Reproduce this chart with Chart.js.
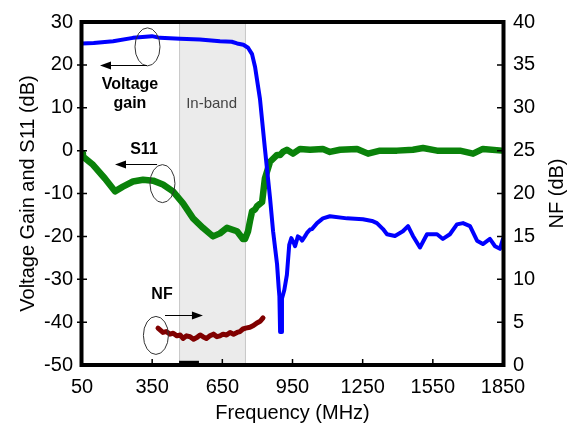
<!DOCTYPE html>
<html>
<head>
<meta charset="utf-8">
<script src="https://cdn.jsdelivr.net/npm/chart.js@4.4.1/dist/chart.umd.min.js"></script>
<style>
  html, body { margin: 0; padding: 0; background: #fff; }
</style>
</head>
<body>
<canvas id="chart" width="572" height="425"></canvas>
<script>
// Voltage gain, S11 and NF versus frequency, with the in-band region shaded.
const gainFreq = [50, 100, 183, 268, 349, 383, 469, 554, 640, 690, 713, 740, 760, 777, 790, 811, 832, 854, 867, 884, 891, 894, 897, 901, 905, 915, 926, 936, 945, 955, 961, 973, 982, 991, 1003, 1012, 1025, 1033, 1055, 1080, 1110, 1183, 1251, 1290, 1311, 1337, 1354, 1388, 1422, 1444, 1465, 1495, 1525, 1568, 1593, 1623, 1653, 1679, 1709, 1739, 1764, 1794, 1816, 1837, 1850];
const gainDb = [25.0, 25.1, 25.5, 26.3, 26.7, 26.3, 26.1, 25.9, 25.5, 25.4, 25.0, 24.7, 24.0, 22.5, 19.5, 12.0, 0.5, -11.1, -18.8, -26.5, -32.0, -34.0, -42.3, -42.3, -34.5, -32.5, -29.0, -22.0, -20.4, -21.5, -22.3, -20.0, -20.3, -21.0, -20.0, -19.2, -18.4, -18.3, -16.9, -15.8, -15.3, -15.8, -16.0, -16.4, -16.9, -18.3, -19.5, -19.9, -18.8, -17.6, -19.9, -22.6, -19.5, -19.5, -20.6, -19.5, -17.2, -16.9, -17.6, -21.0, -21.8, -20.6, -22.3, -22.9, -20.6];

const s11Freq = [50, 54, 97, 148, 191, 225, 268, 311, 354, 396, 439, 482, 525, 567, 610, 640, 670, 713, 738, 747, 760, 768, 777, 790, 798, 820, 832, 854, 884, 897, 909, 926, 952, 982, 1025, 1080, 1110, 1153, 1226, 1273, 1324, 1397, 1465, 1508, 1568, 1666, 1722, 1764, 1846, 1850];
const s11Db = [-0.7, -1.4, -3.3, -6.5, -9.5, -8.4, -7.2, -6.8, -7.0, -7.9, -9.5, -12.3, -15.8, -18.0, -20.0, -19.3, -18.0, -18.8, -20.6, -20.6, -18.8, -16.5, -14.2, -13.7, -13.0, -12.0, -6.5, -2.6, -1.0, -1.0, -0.3, 0.2, -0.7, 0.4, 0.2, 0.4, -0.3, 0.2, 0.4, -0.7, 0.0, 0.0, 0.2, 0.6, 0.0, 0.0, -0.7, 0.4, 0.0, 0.0];

const nfFreq = [375, 396, 410, 426, 440, 456, 470, 482, 497, 512, 527, 541, 555, 567, 582, 597, 612, 627, 640, 653, 668, 683, 698, 713, 725, 738, 750, 768, 783, 798, 812, 824];
const nfDb = [4.3, 3.8, 3.9, 3.6, 3.7, 3.4, 3.5, 3.1, 3.4, 3.3, 3.0, 3.2, 3.5, 3.3, 3.1, 3.4, 3.6, 3.3, 3.4, 3.6, 3.5, 3.8, 3.6, 3.8, 3.9, 4.2, 4.3, 4.4, 4.6, 4.9, 5.1, 5.5];

// in-band shading and the small black marker on the axis
const bandStart = 465, bandEnd = 751;
const markerFreq = [465, 550];
const markerDb = [-49.6, -49.6];

const xTicks = [50, 350, 650, 950, 1250, 1550, 1850];

const FONT = "'Liberation Sans', Arial, Helvetica, sans-serif";

function pts(xs, ys) {
  return xs.map((x, i) => ({ x, y: ys[i] }));
}

// annotation ellipses, arrows and labels (placed in data units)
const ellipses = [
  { f: 330, v: 24.2 },
  { f: 394, v: -7.7 },
  { f: 366, v: -43.1 }
];
const arrows = [
  { f0: 328, f1: 127, v: 19.9 },
  { f0: 371, f1: 191, v: -3.2 },
  { f0: 405, f1: 567, v: -38.4 }
];
const labels = [
  { text: 'Voltage', f: 255, v: 15.4 },
  { text: 'gain', f: 255, v: 11.0 },
  { text: 'S11', f: 315, v: 0.2 },
  { text: 'NF', f: 392, v: -33.6 }
];

const decor = {
  id: 'decor',
  beforeDatasetsDraw(chart) {
    const { ctx, chartArea: a, scales: { x, y } } = chart;
    const x0 = x.getPixelForValue(bandStart), x1 = x.getPixelForValue(bandEnd);
    ctx.save();
    ctx.fillStyle = '#ebebeb';
    ctx.fillRect(x0, a.top, x1 - x0, a.bottom - a.top);
    ctx.strokeStyle = '#c8c8c8';
    ctx.lineWidth = 1;
    ctx.beginPath();
    ctx.moveTo(x0 + 0.5, a.top); ctx.lineTo(x0 + 0.5, a.bottom);
    ctx.moveTo(x1 - 0.5, a.top); ctx.lineTo(x1 - 0.5, a.bottom);
    ctx.stroke();
    ctx.fillStyle = '#444';
    ctx.font = '15px ' + FONT;
    ctx.textAlign = 'center';
    ctx.textBaseline = 'middle';
    ctx.fillText('In-band', x.getPixelForValue(604), y.getPixelForValue(10.8));
    ctx.restore();
  },
  afterDatasetsDraw(chart) {
    const { ctx, chartArea: a, scales: { x, y, y1 } } = chart;
    ctx.save();

    // ellipses
    ctx.strokeStyle = '#333';
    ctx.lineWidth = 1;
    ellipses.forEach(e => {
      ctx.beginPath();
      ctx.ellipse(x.getPixelForValue(e.f), y.getPixelForValue(e.v), 12.5, 19, 0, 0, Math.PI * 2);
      ctx.stroke();
    });

    // arrows
    ctx.strokeStyle = '#000';
    ctx.fillStyle = '#000';
    arrows.forEach(r => {
      const px0 = x.getPixelForValue(r.f0), px1 = x.getPixelForValue(r.f1);
      const py = Math.round(y.getPixelForValue(r.v)) + 0.5;
      const dir = px1 > px0 ? 1 : -1;
      ctx.beginPath();
      ctx.moveTo(px0, py);
      ctx.lineTo(px1 - dir * 8, py);
      ctx.stroke();
      ctx.beginPath();
      ctx.moveTo(px1, py);
      ctx.lineTo(px1 - dir * 11, py - 4);
      ctx.lineTo(px1 - dir * 11, py + 4);
      ctx.closePath();
      ctx.fill();
    });

    ctx.font = 'bold 16px ' + FONT;
    ctx.textAlign = 'center';
    ctx.textBaseline = 'middle';
    labels.forEach(l => ctx.fillText(l.text, x.getPixelForValue(l.f), y.getPixelForValue(l.v)));

    // frame and inward ticks
    ctx.lineWidth = 4;
    ctx.strokeRect(a.left - 0.5, a.top, a.right - a.left + 1, a.bottom - a.top);
    ctx.lineWidth = 1.5;
    ctx.beginPath();
    xTicks.slice(1, -1).forEach(t => {
      const px = x.getPixelForValue(t);
      ctx.moveTo(px, a.bottom);
      ctx.lineTo(px, a.bottom - 6);
    });
    for (let v = 5; v < 40; v += 5) {
      const py = y1.getPixelForValue(v);
      ctx.moveTo(a.right, py);
      ctx.lineTo(a.right - 6, py);
    }
    for (let v = -40; v < 30; v += 10) {
      const py = y.getPixelForValue(v);
      ctx.moveTo(a.left - 5, py);
      ctx.lineTo(a.left + 5, py);
    }
    ctx.stroke();

    // right axis title reads bottom to top
    ctx.font = '20px ' + FONT;
    ctx.translate(557, (a.top + a.bottom) / 2);
    ctx.rotate(-Math.PI / 2);
    ctx.fillText('NF (dB)', 0, 0);
    ctx.restore();
  }
};

const tickFont = { family: FONT, size: 20 };

new Chart(document.getElementById('chart'), {
  type: 'line',
  data: {
    datasets: [
      {
        label: 'Voltage gain',
        data: pts(gainFreq, gainDb),
        borderColor: '#0000ff',
        borderWidth: 4,
        yAxisID: 'y'
      },
      {
        label: 'S11',
        data: pts(s11Freq, s11Db),
        borderColor: '#0a820a',
        borderWidth: 6.5,
        yAxisID: 'y'
      },
      {
        label: 'NF',
        data: pts(nfFreq, nfDb),
        borderColor: '#800000',
        borderWidth: 5,
        yAxisID: 'y1'
      },
      {
        label: 'marker',
        data: pts(markerFreq, markerDb),
        borderColor: '#000',
        borderWidth: 5,
        borderCapStyle: 'butt',
        yAxisID: 'y'
      }
    ]
  },
  options: {
    responsive: false,
    animation: false,
    elements: {
      point: { radius: 0 },
      line: { tension: 0, borderJoinStyle: 'round', borderCapStyle: 'round' }
    },
    layout: { padding: { top: 19, left: 0, right: 0, bottom: 0 } },
    plugins: {
      legend: { display: false },
      tooltip: { enabled: false }
    },
    scales: {
      x: {
        type: 'linear',
        min: 50,
        max: 1850,
        afterBuildTicks: s => { s.ticks = xTicks.map(v => ({ value: v })); },
        ticks: { font: tickFont, color: '#000', padding: 10, maxRotation: 0, autoSkip: false, callback: v => String(v) },
        grid: { display: false, drawTicks: false },
        border: { display: false },
        title: { display: true, text: 'Frequency (MHz)', font: tickFont, color: '#000', padding: { top: 0, bottom: 0 } },
        afterFit: s => { s.height = 60; }
      },
      y: {
        position: 'left',
        min: -50,
        max: 30,
        ticks: { stepSize: 10, font: tickFont, color: '#000', padding: 9 },
        grid: { display: false, drawTicks: false },
        border: { display: false },
        title: { display: true, text: 'Voltage Gain and S11 (dB)', font: tickFont, color: '#000', padding: { top: 16, bottom: 0 } },
        afterFit: s => { s.width = 82; }
      },
      y1: {
        position: 'right',
        min: 0,
        max: 40,
        ticks: { stepSize: 5, font: tickFont, color: '#000', padding: 10 },
        grid: { display: false, drawTicks: false },
        border: { display: false },
        afterFit: s => { s.width = 69; }
      }
    }
  },
  plugins: [decor]
});
</script>
</body>
</html>
